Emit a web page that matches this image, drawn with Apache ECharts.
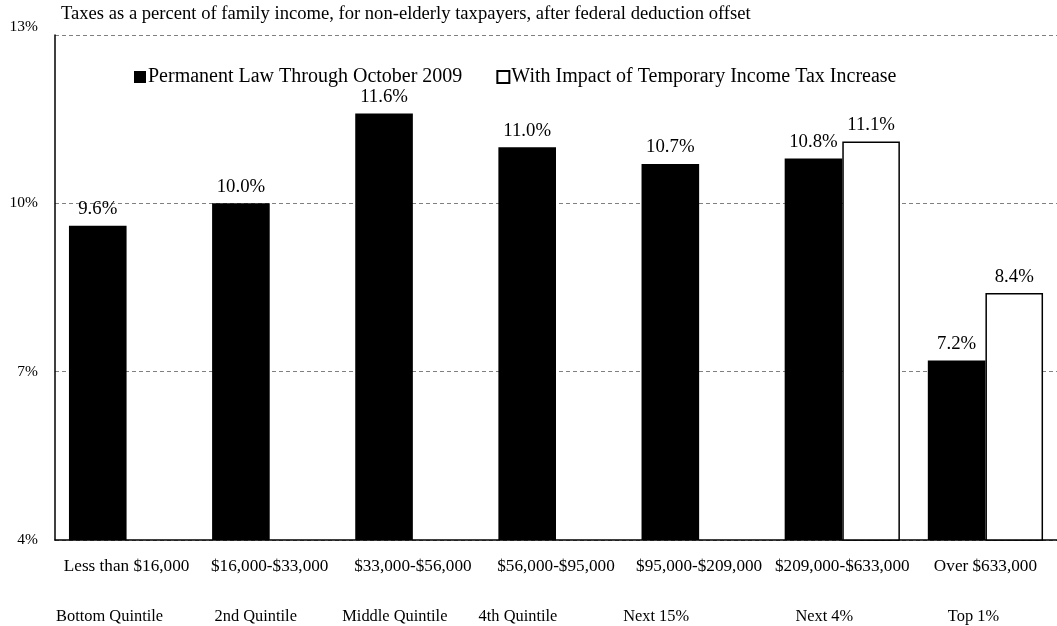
<!DOCTYPE html>
<html>
<head>
<meta charset="utf-8">
<title>Taxes as a percent of family income</title>
<script src="https://cdn.jsdelivr.net/npm/echarts@6/dist/echarts.min.js"></script>
<style>
  html, body { margin: 0; padding: 0; background: #fff; }
  #chart { width: 1057px; height: 626px; }
</style>
</head>
<body>
<div id="chart"></div>
<script>
// income brackets (first row of x labels) and the group names under them
const brackets = [
  "Less than $16,000", "$16,000-$33,000", "$33,000-$56,000", "$56,000-$95,000",
  "$95,000-$209,000", "$209,000-$633,000", "Over $633,000"
];
const groups = [
  "Bottom Quintile", "2nd Quintile", "Middle Quintile", "4th Quintile",
  "Next 15%", "Next 4%", "Top 1%"
];

const permanentLaw = [9.6, 10.0, 11.6, 11.0, 10.7, 10.8, 7.2];
const withIncrease = [null, null, null, null, null, 11.1, 8.4];

const yTicks = [4, 7, 10, 13];

// the group names sit a bit left of the category centre in the original
const groupShift = [17, 14, 18, 38, 43, 18, 12];

const FONT = "Liberation Serif";

const chart = echarts.init(document.getElementById("chart"));

const pctLabel = {
  show: true,
  position: "top",
  distance: 7,
  color: "#000",
  fontFamily: FONT,
  fontSize: 18.8,
  formatter: (p) => p.value.toFixed(1) + "%",
};

const option = {
  animation: false,
  backgroundColor: "#fff",
  title: {
    text: "Taxes as a percent of family income, for non-elderly taxpayers, after federal deduction offset",
    left: 56,
    top: 0,
    textStyle: { fontFamily: FONT, fontSize: 18.6, fontWeight: "normal", color: "#000" },
  },
  legend: {
    left: 129,
    top: 62,
    itemWidth: 12,
    itemHeight: 12,
    itemGap: 34,
    icon: "rect",
    textStyle: { fontFamily: FONT, fontSize: 20, color: "#000", padding: [0, 0, 0, -3] },
    data: ["Permanent Law Through October 2009", "With Impact of Temporary Income Tax Increase"],
  },
  // the original plot runs past the right edge of the picture, so width is fixed
  grid: { left: 55, top: 35, width: 1015, height: 505 },
  xAxis: [
    {
      type: "category",
      data: brackets,
      axisLine: { lineStyle: { color: "#000", width: 1.5 } },
      axisTick: { show: false },
      axisLabel: { color: "#000", fontFamily: FONT, fontSize: 17.2, margin: 18, interval: 0 },
    },
    {
      type: "category",
      position: "bottom",
      offset: 51,
      data: groups.map((g, i) => ({
        value: g,
        textStyle: { padding: [0, groupShift[i] * 2, 0, 0] },
      })),
      axisLine: { show: false },
      axisTick: { show: false },
      axisLabel: { color: "#000", fontFamily: FONT, fontSize: 16.4, margin: 18, interval: 0 },
    },
  ],
  yAxis: {
    type: "value",
    min: yTicks[0],
    max: yTicks[yTicks.length - 1],
    interval: 3,
    axisLine: { show: true, lineStyle: { color: "#000", width: 1.5 } },
    axisTick: { show: false },
    axisLabel: {
      color: "#000",
      fontFamily: FONT,
      fontSize: 15.5,
      margin: 17,
      verticalAlignMaxLabel: "bottom",
      formatter: "{value}%",
    },
    splitLine: { lineStyle: { color: "#808080", type: [4, 3], width: 1 } },
  },
  series: [
    {
      name: "Permanent Law Through October 2009",
      type: "bar",
      data: permanentLaw,
      barGap: "0%",
      barCategoryGap: "19.5%",
      itemStyle: { color: "#000" },
      label: pctLabel,
    },
    {
      name: "With Impact of Temporary Income Tax Increase",
      type: "bar",
      data: withIncrease,
      itemStyle: { color: "#fff", borderColor: "#000", borderWidth: 1.5 },
      label: pctLabel,
    },
  ],
};

chart.setOption(option);
</script>
</body>
</html>
